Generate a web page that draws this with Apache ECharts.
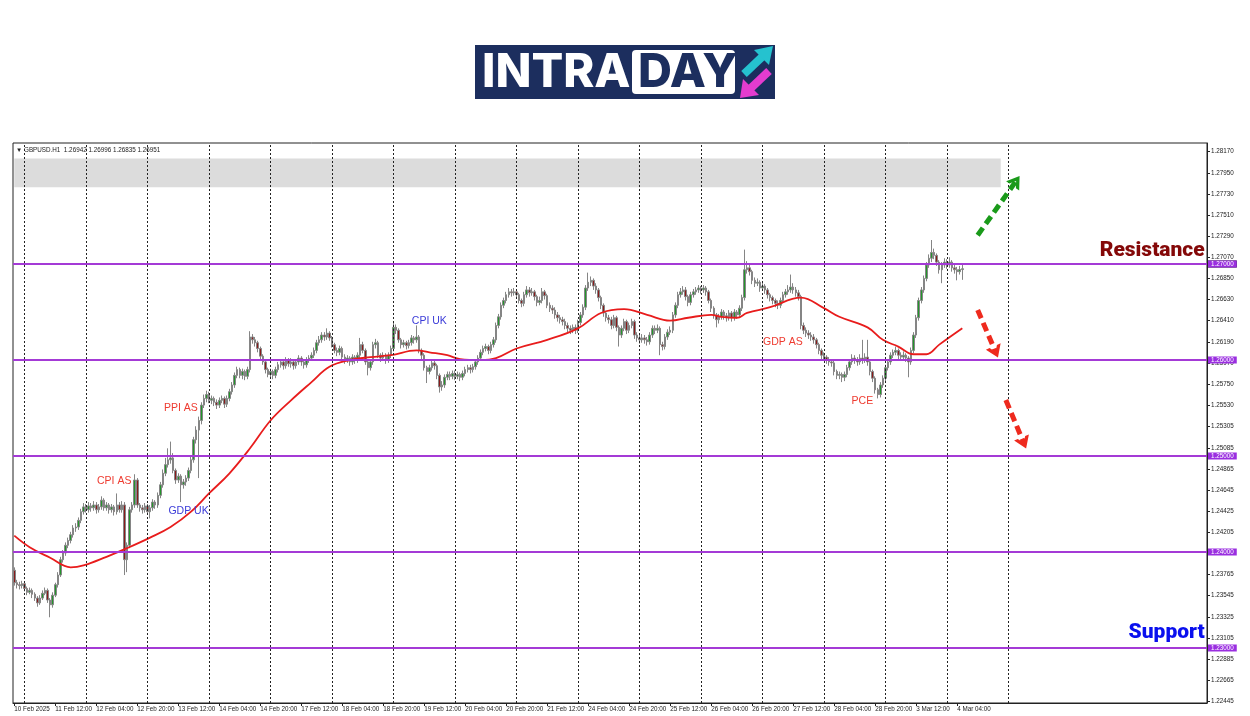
<!DOCTYPE html>
<html><head><meta charset="utf-8">
<script src="https://cdn.jsdelivr.net/npm/echarts@6/dist/echarts.min.js"></script>
<style>html,body{margin:0;padding:0;background:#fff}#c{width:1250px;height:716px}</style>
</head><body><div id="c"></div>
<script>
const symbolName = 'GBPUSD.H1';
const opens = [
1.2381,1.2368,1.2366,1.2365,1.2367,1.2362,1.2358,1.2360,1.2356,1.2352,
1.2347,1.2352,1.2357,1.2360,1.2350,1.2345,1.2355,1.2366,1.2376,1.2392,
1.2399,1.2407,1.2412,1.2418,1.2425,1.2426,1.2433,1.2442,1.2447,1.2444,
1.2448,1.2446,1.2449,1.2444,1.2447,1.2454,1.2446,1.2449,1.2444,1.2447,
1.2442,1.2449,1.2444,1.2449,1.2392,1.2407,1.2444,1.2449,1.2475,1.2449,
1.2446,1.2444,1.2448,1.2442,1.2446,1.2452,1.2449,1.2459,1.2470,1.2482,
1.2491,1.2496,1.2498,1.2485,1.2475,1.2479,1.2470,1.2473,1.2477,1.2485,
1.2496,1.2517,1.2527,1.2537,1.2553,1.2560,1.2564,1.2558,1.2560,1.2556,
1.2553,1.2558,1.2560,1.2554,1.2560,1.2567,1.2574,1.2584,1.2590,1.2584,
1.2588,1.2583,1.2590,1.2624,1.2621,1.2618,1.2612,1.2604,1.2598,1.2590,
1.2585,1.2588,1.2584,1.2590,1.2595,1.2598,1.2594,1.2600,1.2596,1.2598,
1.2594,1.2598,1.2602,1.2598,1.2595,1.2600,1.2602,1.2605,1.2610,1.2618,
1.2621,1.2626,1.2624,1.2628,1.2623,1.2616,1.2610,1.2608,1.2612,1.2603,
1.2600,1.2602,1.2598,1.2603,1.2600,1.2605,1.2616,1.2610,1.2598,1.2592,
1.2598,1.2616,1.2618,1.2605,1.2602,1.2605,1.2600,1.2605,1.2612,1.2634,
1.2631,1.2621,1.2616,1.2618,1.2615,1.2618,1.2623,1.2621,1.2624,1.2610,
1.2605,1.2592,1.2588,1.2592,1.2597,1.2594,1.2584,1.2572,1.2574,1.2582,
1.2585,1.2583,1.2586,1.2583,1.2585,1.2582,1.2586,1.2590,1.2592,1.2590,
1.2593,1.2598,1.2602,1.2608,1.2612,1.2614,1.2610,1.2616,1.2621,1.2636,
1.2645,1.2657,1.2662,1.2668,1.2671,1.2670,1.2671,1.2668,1.2662,1.2659,
1.2668,1.2673,1.2670,1.2671,1.2666,1.2660,1.2662,1.2671,1.2667,1.2657,
1.2654,1.2652,1.2647,1.2644,1.2642,1.2640,1.2636,1.2633,1.2631,1.2634,
1.2631,1.2639,1.2647,1.2655,1.2675,1.2681,1.2683,1.2677,1.2673,1.2665,
1.2657,1.2649,1.2644,1.2642,1.2636,1.2644,1.2634,1.2626,1.2633,1.2640,
1.2631,1.2636,1.2640,1.2626,1.2623,1.2621,1.2623,1.2621,1.2619,1.2626,
1.2633,1.2631,1.2633,1.2616,1.2614,1.2624,1.2629,1.2631,1.2647,1.2657,
1.2668,1.2671,1.2673,1.2666,1.2660,1.2668,1.2671,1.2673,1.2675,1.2673,
1.2675,1.2671,1.2662,1.2654,1.2647,1.2642,1.2645,1.2650,1.2646,1.2644,
1.2649,1.2644,1.2650,1.2647,1.2654,1.2665,1.2694,1.2696,1.2692,1.2683,
1.2680,1.2681,1.2675,1.2677,1.2673,1.2668,1.2665,1.2662,1.2659,1.2657,
1.2662,1.2668,1.2671,1.2673,1.2676,1.2673,1.2670,1.2666,1.2636,1.2631,
1.2628,1.2626,1.2624,1.2621,1.2616,1.2610,1.2605,1.2603,1.2600,1.2598,
1.2597,1.2588,1.2584,1.2585,1.2582,1.2585,1.2592,1.2598,1.2602,1.2600,
1.2598,1.2602,1.2600,1.2603,1.2598,1.2588,1.2581,1.2569,1.2564,1.2574,
1.2581,1.2592,1.2598,1.2605,1.2608,1.2610,1.2605,1.2603,1.2605,1.2602,
1.2598,1.2610,1.2626,1.2644,1.2662,1.2673,1.2685,1.2699,1.2706,1.2712,
1.2709,1.2702,1.2694,1.2699,1.2702,1.2699,1.2702,1.2696,1.2694,1.2692,
1.26942];
const closes = [
1.2368,1.2366,1.2365,1.2367,1.2362,1.2358,1.2360,1.2356,1.2352,1.2347,
1.2352,1.2357,1.2360,1.2350,1.2345,1.2355,1.2366,1.2376,1.2392,1.2399,
1.2407,1.2412,1.2418,1.2425,1.2426,1.2433,1.2442,1.2447,1.2444,1.2448,
1.2446,1.2449,1.2444,1.2447,1.2454,1.2446,1.2449,1.2444,1.2447,1.2442,
1.2449,1.2444,1.2449,1.2392,1.2407,1.2444,1.2449,1.2475,1.2449,1.2446,
1.2444,1.2448,1.2442,1.2446,1.2452,1.2449,1.2459,1.2470,1.2482,1.2491,
1.2496,1.2498,1.2485,1.2475,1.2479,1.2470,1.2473,1.2477,1.2485,1.2496,
1.2517,1.2527,1.2537,1.2553,1.2560,1.2564,1.2558,1.2560,1.2556,1.2553,
1.2558,1.2560,1.2554,1.2560,1.2567,1.2574,1.2584,1.2590,1.2584,1.2588,
1.2583,1.2590,1.2624,1.2621,1.2618,1.2612,1.2604,1.2598,1.2590,1.2585,
1.2588,1.2584,1.2590,1.2595,1.2598,1.2594,1.2600,1.2596,1.2598,1.2594,
1.2598,1.2602,1.2598,1.2595,1.2600,1.2602,1.2605,1.2610,1.2618,1.2621,
1.2626,1.2624,1.2628,1.2623,1.2616,1.2610,1.2608,1.2612,1.2603,1.2600,
1.2602,1.2598,1.2603,1.2600,1.2605,1.2616,1.2610,1.2598,1.2592,1.2598,
1.2616,1.2618,1.2605,1.2602,1.2605,1.2600,1.2605,1.2612,1.2634,1.2631,
1.2621,1.2616,1.2618,1.2615,1.2618,1.2623,1.2621,1.2624,1.2610,1.2605,
1.2592,1.2588,1.2592,1.2597,1.2594,1.2584,1.2572,1.2574,1.2582,1.2585,
1.2583,1.2586,1.2583,1.2585,1.2582,1.2586,1.2590,1.2592,1.2590,1.2593,
1.2598,1.2602,1.2608,1.2612,1.2614,1.2610,1.2616,1.2621,1.2636,1.2645,
1.2657,1.2662,1.2668,1.2671,1.2670,1.2671,1.2668,1.2662,1.2659,1.2668,
1.2673,1.2670,1.2671,1.2666,1.2660,1.2662,1.2671,1.2667,1.2657,1.2654,
1.2652,1.2647,1.2644,1.2642,1.2640,1.2636,1.2633,1.2631,1.2634,1.2631,
1.2639,1.2647,1.2655,1.2675,1.2681,1.2683,1.2677,1.2673,1.2665,1.2657,
1.2649,1.2644,1.2642,1.2636,1.2644,1.2634,1.2626,1.2633,1.2640,1.2631,
1.2636,1.2640,1.2626,1.2623,1.2621,1.2623,1.2621,1.2619,1.2626,1.2633,
1.2631,1.2633,1.2616,1.2614,1.2624,1.2629,1.2631,1.2647,1.2657,1.2668,
1.2671,1.2673,1.2666,1.2660,1.2668,1.2671,1.2673,1.2675,1.2673,1.2675,
1.2671,1.2662,1.2654,1.2647,1.2642,1.2645,1.2650,1.2646,1.2644,1.2649,
1.2644,1.2650,1.2647,1.2654,1.2665,1.2694,1.2696,1.2692,1.2683,1.2680,
1.2681,1.2675,1.2677,1.2673,1.2668,1.2665,1.2662,1.2659,1.2657,1.2662,
1.2668,1.2671,1.2673,1.2676,1.2673,1.2670,1.2666,1.2636,1.2631,1.2628,
1.2626,1.2624,1.2621,1.2616,1.2610,1.2605,1.2603,1.2600,1.2598,1.2597,
1.2588,1.2584,1.2585,1.2582,1.2585,1.2592,1.2598,1.2602,1.2600,1.2598,
1.2602,1.2600,1.2603,1.2598,1.2588,1.2581,1.2569,1.2564,1.2574,1.2581,
1.2592,1.2598,1.2605,1.2608,1.2610,1.2605,1.2603,1.2605,1.2602,1.2598,
1.2610,1.2626,1.2644,1.2662,1.2673,1.2685,1.2699,1.2706,1.2712,1.2709,
1.2702,1.2694,1.2699,1.2702,1.2699,1.2702,1.2696,1.2694,1.2692,1.26942,
1.26951];
const lows = [
1.2365,1.2362,1.2361,1.2362,1.2359,1.2355,1.2356,1.2352,1.2349,1.2343,
1.2345,1.2350,1.2355,1.2347,1.2332,1.2342,1.2353,1.2363,1.2374,1.2389,
1.2396,1.2404,1.2409,1.2415,1.2421,1.2423,1.2430,1.2439,1.2441,1.2441,
1.2442,1.2443,1.2440,1.2441,1.2444,1.2443,1.2443,1.2440,1.2441,1.2438,
1.2439,1.2441,1.2441,1.2376,1.2379,1.2404,1.2441,1.2446,1.2446,1.2442,
1.2440,1.2441,1.2439,1.2435,1.2443,1.2445,1.2446,1.2456,1.2467,1.2479,
1.2488,1.2492,1.2482,1.2471,1.2472,1.2452,1.2466,1.2469,1.2474,1.2482,
1.2493,1.2513,1.2477,1.2533,1.2550,1.2556,1.2555,1.2554,1.2552,1.2549,
1.2550,1.2555,1.2550,1.2551,1.2557,1.2564,1.2571,1.2581,1.2581,1.2580,
1.2579,1.2580,1.2587,1.2617,1.2614,1.2608,1.2601,1.2595,1.2586,1.2582,
1.2582,1.2580,1.2581,1.2587,1.2592,1.2590,1.2591,1.2593,1.2592,1.2590,
1.2591,1.2595,1.2594,1.2591,1.2592,1.2597,1.2599,1.2602,1.2607,1.2615,
1.2618,1.2620,1.2621,1.2620,1.2613,1.2607,1.2604,1.2605,1.2600,1.2596,
1.2597,1.2594,1.2595,1.2596,1.2597,1.2602,1.2607,1.2595,1.2584,1.2589,
1.2595,1.2612,1.2602,1.2598,1.2599,1.2596,1.2597,1.2602,1.2609,1.2627,
1.2618,1.2612,1.2613,1.2611,1.2612,1.2615,1.2617,1.2618,1.2607,1.2601,
1.2589,1.2576,1.2585,1.2589,1.2590,1.2580,1.2566,1.2568,1.2571,1.2579,
1.2579,1.2580,1.2579,1.2580,1.2578,1.2579,1.2583,1.2587,1.2586,1.2587,
1.2590,1.2595,1.2599,1.2605,1.2609,1.2606,1.2607,1.2613,1.2618,1.2633,
1.2642,1.2654,1.2659,1.2665,1.2666,1.2667,1.2664,1.2659,1.2655,1.2656,
1.2665,1.2666,1.2667,1.2662,1.2656,1.2657,1.2659,1.2663,1.2654,1.2650,
1.2648,1.2643,1.2640,1.2638,1.2636,1.2632,1.2629,1.2627,1.2628,1.2627,
1.2628,1.2636,1.2644,1.2652,1.2672,1.2677,1.2673,1.2669,1.2661,1.2653,
1.2645,1.2640,1.2638,1.2632,1.2633,1.2630,1.2614,1.2623,1.2630,1.2627,
1.2628,1.2633,1.2622,1.2619,1.2617,1.2618,1.2617,1.2615,1.2616,1.2623,
1.2627,1.2628,1.2605,1.2610,1.2611,1.2621,1.2626,1.2628,1.2644,1.2654,
1.2665,1.2668,1.2662,1.2656,1.2657,1.2665,1.2668,1.2670,1.2669,1.2670,
1.2667,1.2659,1.2650,1.2643,1.2634,1.2638,1.2642,1.2642,1.2640,1.2641,
1.2640,1.2641,1.2643,1.2644,1.2651,1.2662,1.2690,1.2688,1.2679,1.2676,
1.2677,1.2671,1.2672,1.2669,1.2664,1.2661,1.2658,1.2655,1.2653,1.2654,
1.2659,1.2665,1.2668,1.2670,1.2669,1.2666,1.2662,1.2632,1.2627,1.2624,
1.2622,1.2620,1.2617,1.2612,1.2606,1.2601,1.2599,1.2596,1.2594,1.2593,
1.2584,1.2580,1.2580,1.2577,1.2578,1.2582,1.2589,1.2595,1.2596,1.2594,
1.2595,1.2596,1.2597,1.2594,1.2584,1.2577,1.2565,1.2560,1.2561,1.2571,
1.2578,1.2589,1.2595,1.2602,1.2605,1.2601,1.2599,1.2600,1.2598,1.2582,
1.2595,1.2607,1.2623,1.2641,1.2659,1.2670,1.2682,1.2696,1.2702,1.2705,
1.2698,1.2690,1.2680,1.2696,1.2695,1.2696,1.2692,1.2690,1.2683,1.2689,
1.26835];
const highs = [
1.2384,1.2371,1.2369,1.2370,1.2369,1.2364,1.2363,1.2362,1.2358,1.2354,
1.2355,1.2360,1.2363,1.2362,1.2352,1.2358,1.2368,1.2379,1.2395,1.2402,
1.2410,1.2415,1.2421,1.2428,1.2430,1.2436,1.2445,1.2451,1.2450,1.2452,
1.2451,1.2453,1.2452,1.2450,1.2458,1.2456,1.2452,1.2451,1.2450,1.2449,
1.2461,1.2452,1.2453,1.2452,1.2410,1.2447,1.2452,1.2481,1.2477,1.2451,
1.2449,1.2451,1.2450,1.2449,1.2455,1.2454,1.2462,1.2473,1.2486,1.2498,
1.2508,1.2515,1.2503,1.2487,1.2482,1.2481,1.2476,1.2480,1.2488,1.2499,
1.2520,1.2531,1.2541,1.2556,1.2564,1.2568,1.2567,1.2563,1.2562,1.2559,
1.2561,1.2563,1.2562,1.2563,1.2570,1.2577,1.2587,1.2593,1.2592,1.2591,
1.2590,1.2593,1.2630,1.2627,1.2624,1.2620,1.2614,1.2606,1.2600,1.2592,
1.2591,1.2590,1.2593,1.2598,1.2601,1.2600,1.2603,1.2602,1.2602,1.2600,
1.2601,1.2605,1.2604,1.2600,1.2603,1.2605,1.2608,1.2613,1.2621,1.2625,
1.2629,1.2629,1.2633,1.2630,1.2625,1.2618,1.2613,1.2615,1.2614,1.2606,
1.2605,1.2604,1.2606,1.2605,1.2608,1.2623,1.2619,1.2612,1.2600,1.2601,
1.2619,1.2622,1.2620,1.2607,1.2608,1.2607,1.2608,1.2615,1.2639,1.2637,
1.2633,1.2623,1.2621,1.2620,1.2621,1.2626,1.2625,1.2636,1.2626,1.2612,
1.2607,1.2594,1.2595,1.2600,1.2599,1.2596,1.2586,1.2578,1.2585,1.2588,
1.2588,1.2589,1.2589,1.2588,1.2587,1.2589,1.2593,1.2595,1.2595,1.2596,
1.2601,1.2605,1.2611,1.2615,1.2617,1.2616,1.2619,1.2624,1.2639,1.2648,
1.2660,1.2665,1.2671,1.2675,1.2674,1.2675,1.2674,1.2670,1.2664,1.2671,
1.2677,1.2676,1.2675,1.2673,1.2668,1.2666,1.2675,1.2673,1.2669,1.2660,
1.2657,1.2655,1.2650,1.2647,1.2645,1.2643,1.2639,1.2636,1.2637,1.2637,
1.2642,1.2650,1.2658,1.2678,1.2691,1.2687,1.2685,1.2680,1.2675,1.2667,
1.2659,1.2651,1.2647,1.2645,1.2647,1.2646,1.2636,1.2636,1.2643,1.2642,
1.2639,1.2643,1.2642,1.2629,1.2626,1.2627,1.2626,1.2624,1.2629,1.2636,
1.2636,1.2637,1.2635,1.2619,1.2627,1.2632,1.2635,1.2650,1.2660,1.2671,
1.2675,1.2677,1.2676,1.2668,1.2671,1.2674,1.2676,1.2678,1.2677,1.2678,
1.2677,1.2673,1.2664,1.2656,1.2649,1.2648,1.2653,1.2652,1.2649,1.2652,
1.2651,1.2653,1.2652,1.2657,1.2668,1.2715,1.2703,1.2699,1.2694,1.2686,
1.2685,1.2683,1.2681,1.2679,1.2675,1.2670,1.2667,1.2664,1.2662,1.2665,
1.2671,1.2674,1.2678,1.2689,1.2680,1.2676,1.2673,1.2668,1.2639,1.2634,
1.2631,1.2629,1.2627,1.2623,1.2618,1.2612,1.2608,1.2605,1.2603,1.2601,
1.2599,1.2590,1.2588,1.2587,1.2588,1.2595,1.2601,1.2606,1.2605,1.2603,
1.2606,1.2621,1.2607,1.2621,1.2600,1.2590,1.2583,1.2571,1.2577,1.2584,
1.2595,1.2601,1.2608,1.2611,1.2614,1.2612,1.2608,1.2609,1.2607,1.2604,
1.2613,1.2629,1.2647,1.2665,1.2676,1.2688,1.2702,1.2710,1.2725,1.2716,
1.2711,1.2704,1.2702,1.2706,1.2705,1.2707,1.2704,1.2699,1.2697,1.2698,
1.26996];

const maBars = [0,6,14,22,27,36,44,53,61,69,76,84,92,100,108,116,123,131,139,147,157,162,169,174,182,188,196,208,220,229,238,247,256,263,272,276,282,286,295,307,316,322,333,339,345,351,356,361,370];
const maValues = [1.2417,1.2405,1.2394,1.2384,1.2386,1.2395,1.2404,1.2415,1.2426,1.2442,1.2461,1.2482,1.2508,1.2537,1.2558,1.2577,1.2593,1.2600,1.2603,1.2605,1.2610,1.2608,1.2605,1.2601,1.2600,1.2602,1.2612,1.2621,1.2633,1.2649,1.2653,1.2647,1.2641,1.2644,1.2647,1.2645,1.2644,1.2649,1.2655,1.2665,1.2654,1.2645,1.2634,1.2621,1.2614,1.2606,1.2606,1.2616,1.2633];

const xTickLabels = ['10 Feb 2025','11 Feb 12:00','12 Feb 04:00','12 Feb 20:00','13 Feb 12:00','14 Feb 04:00','14 Feb 20:00','17 Feb 12:00','18 Feb 04:00','18 Feb 20:00','19 Feb 12:00','20 Feb 04:00','20 Feb 20:00','21 Feb 12:00','24 Feb 04:00','24 Feb 20:00','25 Feb 12:00','26 Feb 04:00','26 Feb 20:00','27 Feb 12:00','28 Feb 04:00','28 Feb 20:00','3 Mar 12:00','4 Mar 04:00'];
const xTickStep = 16;
const dayStartBars = [4,28,52,76,100,124,148,172,196,220,244,268,292,316,340,364,388];
const yTickValues = [1.28170,1.27950,1.27730,1.27510,1.27290,1.27070,1.26850,1.26630,1.26410,1.26190,1.25970,1.25750,1.25530,1.25305,1.25085,1.24865,1.24645,1.24425,1.24205,1.23985,1.23765,1.23545,1.23325,1.23105,1.22885,1.22665,1.22445];
const levelPrices = [1.27000,1.26000,1.25000,1.24000,1.23000];
const zoneLow = 1.2780, zoneHigh = 1.2810, zoneEndBar = 385;
const eventLabels = [
  {name:'CPI AS', bar:39, price:1.2474, color:'#ee3b30'},
  {name:'PPI AS', bar:65, price:1.2550, color:'#ee3b30'},
  {name:'GDP UK', bar:68, price:1.2443, color:'#3b3bd8'},
  {name:'CPI UK', bar:162, price:1.2640, color:'#3b3bd8'},
  {name:'GDP AS', bar:300, price:1.2619, color:'#ee3b30'},
  {name:'PCE', bar:331, price:1.2557, color:'#ee3b30'}
];
const bigLabels = [
  {name:'Resistance', price:1.27135, color:'#840808'},
  {name:'Support', price:1.23160, color:'#0a10ee'}
];
const arrows = [
  {from:[376,1.2730], to:[391,1.27865], color:'#1a9a1a'},
  {from:[376,1.26521], to:[383,1.26083], color:'#ee2a1e'},
  {from:[387,1.25583], to:[394,1.25135], color:'#ee2a1e'}
];
const totalSlots = 466;
const yTop = 1.27 + (264 - 143) / 9600;
const yBottom = 1.27 - (703 - 264) / 9600;

const cats = [];
for (let i = 0; i < totalSlots; i++) cats.push(String(i));
const last = opens.length - 1;
const candleData = opens.map((o, i) => [o, closes[i], lows[i], highs[i]]);
const maData = maBars.map((b, k) => [b, maValues[k]]);
const F = 'Liberation Sans, Arial, sans-serif';
const navy = '#1c2e5e';
const chevron = 'path://M0,9 L6,0 L12,9 L9,9 L6,4.5 L3,9 Z';

const chart = echarts.init(document.getElementById('c'), null, {renderer: 'canvas'});
chart.setOption({
  animation: false,
  backgroundColor: '#ffffff',
  textStyle: {fontFamily: F},
  grid: {left: 13, right: 43, top: 143, bottom: 13, show: true, borderColor: '#222', borderWidth: 1, outerBoundsMode: 'none', containLabel: false},
  xAxis: {
    type: 'category', data: cats, boundaryGap: true,
    axisLine: {show: true, lineStyle: {color: '#222'}},
    axisTick: {show: true, alignWithLabel: true, length: 3, lineStyle: {color: '#222'},
      interval: (i) => i % xTickStep === 0 && i / xTickStep < xTickLabels.length},
    axisLabel: {show: true, fontSize: 6.3, color: '#222', align: 'left', margin: 3, fontFamily: F, hideOverlap: false,
      interval: (i) => i % xTickStep === 0 && i / xTickStep < xTickLabels.length,
      formatter: (v, i) => xTickLabels[Math.round(Number(v) / xTickStep)] || ''},
    splitLine: {show: false}
  },
  yAxis: {
    type: 'value', position: 'right', scale: true,
    min: yBottom, max: yTop,
    axisLine: {show: true, lineStyle: {color: '#222'}},
    axisTick: {show: true, length: 3, inside: false, customValues: yTickValues, lineStyle: {color: '#222'}},
    axisLabel: {show: true, fontSize: 6.3, color: '#222', margin: 4, fontFamily: F, customValues: yTickValues, formatter: (v) => v.toFixed(5)},
    splitLine: {show: false}
  },
  graphic: [
    {type: 'rect', left: 475, top: 45, shape: {width: 300, height: 54}, style: {fill: navy}},
    {type: 'text', left: 482, top: 49, style: {text: 'INTRA', fill: '#fff', font: '800 47px Inter, Lato, sans-serif'}},
    {type: 'rect', left: 632, top: 50, shape: {width: 103, height: 44, r: 4}, style: {fill: '#fff'}},
    {type: 'text', left: 638, top: 49, style: {text: 'DAY', fill: navy, font: '800 47px Inter, Lato, sans-serif'}},
    {type: 'line', shape: {x1: 744, y1: 74, x2: 762, y2: 57}, style: {stroke: '#25c2cf', lineWidth: 8}},
    {type: 'polygon', shape: {points: [[773, 46], [769, 65], [754, 50]]}, style: {fill: '#25c2cf'}},
    {type: 'line', shape: {x1: 769, y1: 71, x2: 751, y2: 88}, style: {stroke: '#e43ccf', lineWidth: 8}},
    {type: 'polygon', shape: {points: [[740, 98], [759, 95], [743, 79]]}, style: {fill: '#e43ccf'}},
    {type: 'text', left: 16, top: 147, style: {text: '\u25BC ' + symbolName + '  ' + [opens[last], highs[last], lows[last], closes[last]].map(v => v.toFixed(5)).join(' '), fill: '#222', font: '6.3px ' + F}}
  ],
  series: [
    {
      type: 'line', data: [], z: 1, silent: true,
      markArea: {silent: true, itemStyle: {color: '#dcdcdc'}, data: [[{xAxis: 0, yAxis: zoneLow}, {xAxis: zoneEndBar, yAxis: zoneHigh}]]},
      markLine: {silent: true, symbol: ['none', 'none'], label: {show: false},
        lineStyle: {color: '#222', type: [2, 2], width: 1},
        data: dayStartBars.map(b => ({xAxis: b}))}
    },
    {
      type: 'candlestick', z: 2, data: candleData, barWidth: 2,
      itemStyle: {color: '#22962a', color0: '#8a1a1a', borderColor: '#858585', borderColor0: '#858585', borderWidth: 1}
    },
    {
      type: 'line', z: 3, data: maData, smooth: 0.4, showSymbol: false, silent: true,
      lineStyle: {color: '#e81c1c', width: 1.8}
    },
    {
      type: 'line', data: [], z: 4, silent: true,
      markLine: {silent: true, symbol: ['none', 'none'],
        data: [
          {yAxis: closes[last], lineStyle: {color: '#c4c4c4', width: 1, type: 'solid'},
           label: {show: true, position: 'end', distance: 1, formatter: closes[last].toFixed(5), color: '#fff', backgroundColor: '#000', padding: [1, 3, 0, 3], fontSize: 6.3, fontFamily: F}},
        ].concat(levelPrices.map(p => ({yAxis: p, lineStyle: {color: '#a43ad6', width: 2, type: 'solid'},
           label: {show: true, position: 'end', distance: 1, formatter: p.toFixed(5), color: '#fff', backgroundColor: '#9a2ee0', padding: [1, 3, 0, 3], fontSize: 6.3, fontFamily: F}})))
      }
    },
    {
      type: 'line', data: [], z: 5, silent: true,
      markLine: {silent: true, symbol: ['none', chevron], symbolSize: [16, 12], label: {show: false},
        data: arrows.map(a => [{coord: a.from, lineStyle: {color: a.color, width: 5, type: [9, 5]}, itemStyle: {color: a.color}}, {coord: a.to}])},
      markPoint: {silent: true, symbol: 'circle', symbolSize: 0,
        data: eventLabels.map(e => ({name: e.name, coord: [e.bar, e.price],
          label: {show: true, position: 'inside', formatter: '{b}', color: e.color, fontSize: 10.5, fontFamily: F}}))
          .concat(bigLabels.map(b => ({name: b.name, coord: [totalSlots - 1, b.price],
          label: {show: true, position: 'left', distance: 1, formatter: '{b}', color: b.color, fontSize: 21, fontWeight: 900, fontFamily: 'Roboto, Liberation Sans, sans-serif'}})))}
    }
  ]
});
</script></body></html>
